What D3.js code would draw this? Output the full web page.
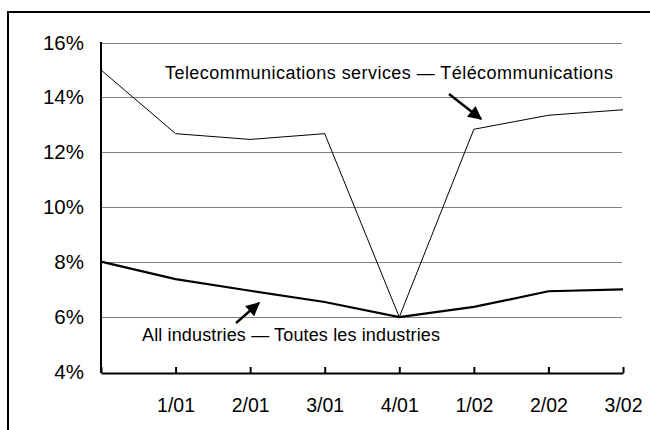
<!DOCTYPE html>
<html>
<head>
<meta charset="utf-8">
<script src="https://cdn.jsdelivr.net/npm/d3@7"></script>
<style>
  body { margin: 0; background: #fff; }
  svg { display: block; font-family: "Liberation Sans", Arial, sans-serif; }
</style>
</head>
<body>
<div id="chart"></div>
<script>
let width = 650;
let height = 430;

let quarters = ['', '1/01', '2/01', '3/01', '4/01', '1/02', '2/02', '3/02'];
let telecom = [15.0, 12.68, 12.47, 12.68, 6.0, 12.84, 13.35, 13.55];
let allIndustries = [8.02, 7.38, 6.96, 6.55, 6.0, 6.37, 6.94, 7.01];
let yTicks = [4, 6, 8, 10, 12, 14, 16];

let svg = d3.select('#chart')
  .append('svg')
  .attr('width', width)
  .attr('height', height);

// outer frame (runs off the right and bottom edge)
svg.append('rect')
  .attr('x', 8)
  .attr('y', 12)
  .attr('width', 700)
  .attr('height', 500)
  .attr('fill', 'none')
  .attr('stroke', '#000')
  .attr('stroke-width', 2);

let x = d3.scalePoint()
  .domain(quarters)
  .range([101, 623]);

let y = d3.scaleLinear()
  .domain([4, 16])
  .range([372, 42.5]);

// gridlines
svg.append('g')
  .selectAll('line')
  .data(yTicks.filter(function(d) { return d > 4; }))
  .enter()
  .append('line')
  .attr('x1', 101)
  .attr('x2', 622)
  .attr('y1', function(d) { return Math.round(y(d)) + 0.5; })
  .attr('y2', function(d) { return Math.round(y(d)) + 0.5; })
  .attr('stroke', '#808080')
  .attr('stroke-width', 1);

// y axis labels
let yAxis = svg.append('g')
  .attr('transform', 'translate(101,0)')
  .call(d3.axisLeft(y).tickValues(yTicks).tickSize(0).tickPadding(17)
    .tickFormat(function(d) { return d + '%'; }));
yAxis.select('.domain').remove();
yAxis.selectAll('text')
  .style('font-family', '"Liberation Sans", Arial, sans-serif')
  .style('font-size', '20.5px')
  .attr('fill', '#000');

svg.append('line')
  .attr('x1', 101).attr('x2', 101)
  .attr('y1', 42).attr('y2', 373)
  .attr('stroke', '#000')
  .attr('stroke-width', 2);

// x axis
let xAxis = svg.append('g')
  .attr('transform', 'translate(0,373)')
  .call(d3.axisBottom(x).tickSizeInner(-6).tickSizeOuter(0).tickPadding(25));
xAxis.select('.domain')
  .attr('stroke', '#000')
  .attr('stroke-width', 2);
xAxis.selectAll('.tick line')
  .attr('stroke', '#000')
  .attr('stroke-width', 2);
xAxis.selectAll('text')
  .style('font-family', '"Liberation Sans", Arial, sans-serif')
  .style('font-size', '19.5px')
  .attr('fill', '#000');

let line = d3.line()
  .x(function(d, i) { return x(quarters[i]); })
  .y(function(d) { return y(d); });

svg.append('path')
  .datum(telecom)
  .attr('d', line)
  .attr('fill', 'none')
  .attr('stroke', '#000')
  .attr('stroke-width', 1);

svg.append('path')
  .datum(allIndustries)
  .attr('d', line)
  .attr('fill', 'none')
  .attr('stroke', '#000')
  .attr('stroke-width', 2.2);

// arrowhead marker
svg.append('defs')
  .append('marker')
  .attr('id', 'arrow')
  .attr('viewBox', '0 0 10 10')
  .attr('refX', 9)
  .attr('refY', 5)
  .attr('markerWidth', 6)
  .attr('markerHeight', 5.5)
  .attr('markerUnits', 'strokeWidth')
  .attr('orient', 'auto')
  .append('path')
  .attr('d', 'M0,0 L10,5 L0,10 z')
  .attr('fill', '#000');

// annotations
svg.append('text')
  .attr('x', 165)
  .attr('y', 79)
  .attr('textLength', 448)
  .attr('lengthAdjust', 'spacing')
  .style('font-size', '18px')
  .text('Telecommunications services \u2014 T\u00e9l\u00e9communications');

svg.append('line')
  .attr('x1', 449).attr('y1', 94)
  .attr('x2', 481).attr('y2', 119)
  .attr('stroke', '#000')
  .attr('stroke-width', 2.5)
  .attr('marker-end', 'url(#arrow)');

svg.append('text')
  .attr('x', 142)
  .attr('y', 341)
  .attr('textLength', 298)
  .attr('lengthAdjust', 'spacing')
  .style('font-size', '18px')
  .text('All industries \u2014 Toutes les industries');

svg.append('line')
  .attr('x1', 236).attr('y1', 323)
  .attr('x2', 259).attr('y2', 303)
  .attr('stroke', '#000')
  .attr('stroke-width', 2.5)
  .attr('marker-end', 'url(#arrow)');
</script>
</body>
</html>
